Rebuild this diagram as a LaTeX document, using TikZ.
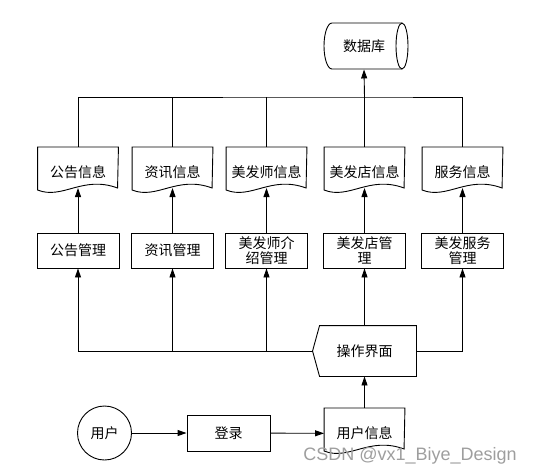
\documentclass[tikz,border=0pt]{standalone}
\usepackage{fontspec}
\newfontfamily\cjk{Noto Sans CJK SC}
\newfontfamily\wmfont{Liberation Sans}
\usetikzlibrary{arrows.meta,calc}
\newcommand\docshape[1]{\draw (#1.north west) -- ++(0,43) .. controls +(25,10) and +(-35,-13) .. +(80,-2) -- (#1.north east) -- cycle;}
\begin{document}
\begin{tikzpicture}[x=1pt,y=-1pt,
  line width=0.9pt,
  every node/.style={font=\cjk\fontsize{14}{14.5}\selectfont, inner sep=0pt},
  arr/.style={-{Triangle[length=9pt,width=6pt]}},
  mgr/.style={draw, minimum width=82pt, minimum height=35pt, align=center},
  docn/.style={minimum width=80pt, minimum height=50pt, anchor=north},
]
\useasboundingbox (0,0) rectangle (535,475);

% database
\node[minimum width=78pt, minimum height=46pt] (db) at (364,46) {数据库};
\draw (402,23) -- (332,23) arc[start angle=270,end angle=90,x radius=8,y radius=23] -- (402,69);
\draw (402,46) ellipse[x radius=6,y radius=23];

% documents
\node[docn] (d1) at (78,147) {公告信息};
\node[docn] (d2) at (172.5,147) {资讯信息};
\node[docn] (d3) at (266.5,147) {美发师信息};
\node[docn] (d4) at (364.5,147) {美发店信息};
\node[docn] (d5) at (462.5,147) {服务信息};
\docshape{d1}\docshape{d2}\docshape{d3}\docshape{d4}\docshape{d5}

% management boxes
\node[mgr] (b1) at (78,250.5) {公告管理};
\node[mgr] (b2) at (172.5,250.5) {资讯管理};
\node[mgr] (b3) at (266.5,250.5) {美发师介\\绍管理};
\node[mgr] (b4) at (364.5,250.5) {美发店管\\理};
\node[mgr] (b5) at (462.5,250.5) {美发服务\\管理};

% top bus
\coordinate (tb) at (364.5,97);
\draw (d1.north) |- (tb) -| (d5.north);
\draw (d2.north) -- (d2.north |- tb);
\draw (d3.north) -- (d3.north |- tb);
\draw (d4.north) -- (tb);
\draw[arr] (tb) -- (db.south);

% box to document arrows
\foreach \i in {1,...,5}{\draw[arr] (b\i.north) -- ($(d\i.north)+(0,41)$);}

% operation interface
\node[minimum width=103pt, minimum height=50pt] (op) at (364.5,351) {操作界面};
\draw ($(op.north west)+(7,0)$) -- (op.north east) -- (op.south east) -- ($(op.south west)+(7,0)$) -- (op.west) -- cycle;

% bottom bus
\draw[arr] (op.west) -| (b1.south);
\draw[arr] (b2.south |- op.west) -- (b2.south);
\draw[arr] (b3.south |- op.west) -- (b3.south);
\draw[arr] (op.north) -- (b4.south);
\draw[arr] (op.east) -| (b5.south);

% bottom row
\node[draw, circle, minimum size=54pt] (u) at (104.5,433) {用户};
\node[draw, minimum width=83pt, minimum height=36pt] (lg) at (228.5,433) {登录};
\node[docn] (ui) at (364.5,408) {用户信息};
\docshape{ui}
\draw[arr] (u) -- (lg);
\draw[arr] (lg) -- (ui);
\draw[arr] (ui.north) -- (op.south);

% watermark
\node[font=\wmfont\fontsize{18}{18}\selectfont, text=black!38, anchor=west] (wm) at (303,456) {CSDN @vx1\_Biye\_Design};
\end{tikzpicture}
\end{document}
